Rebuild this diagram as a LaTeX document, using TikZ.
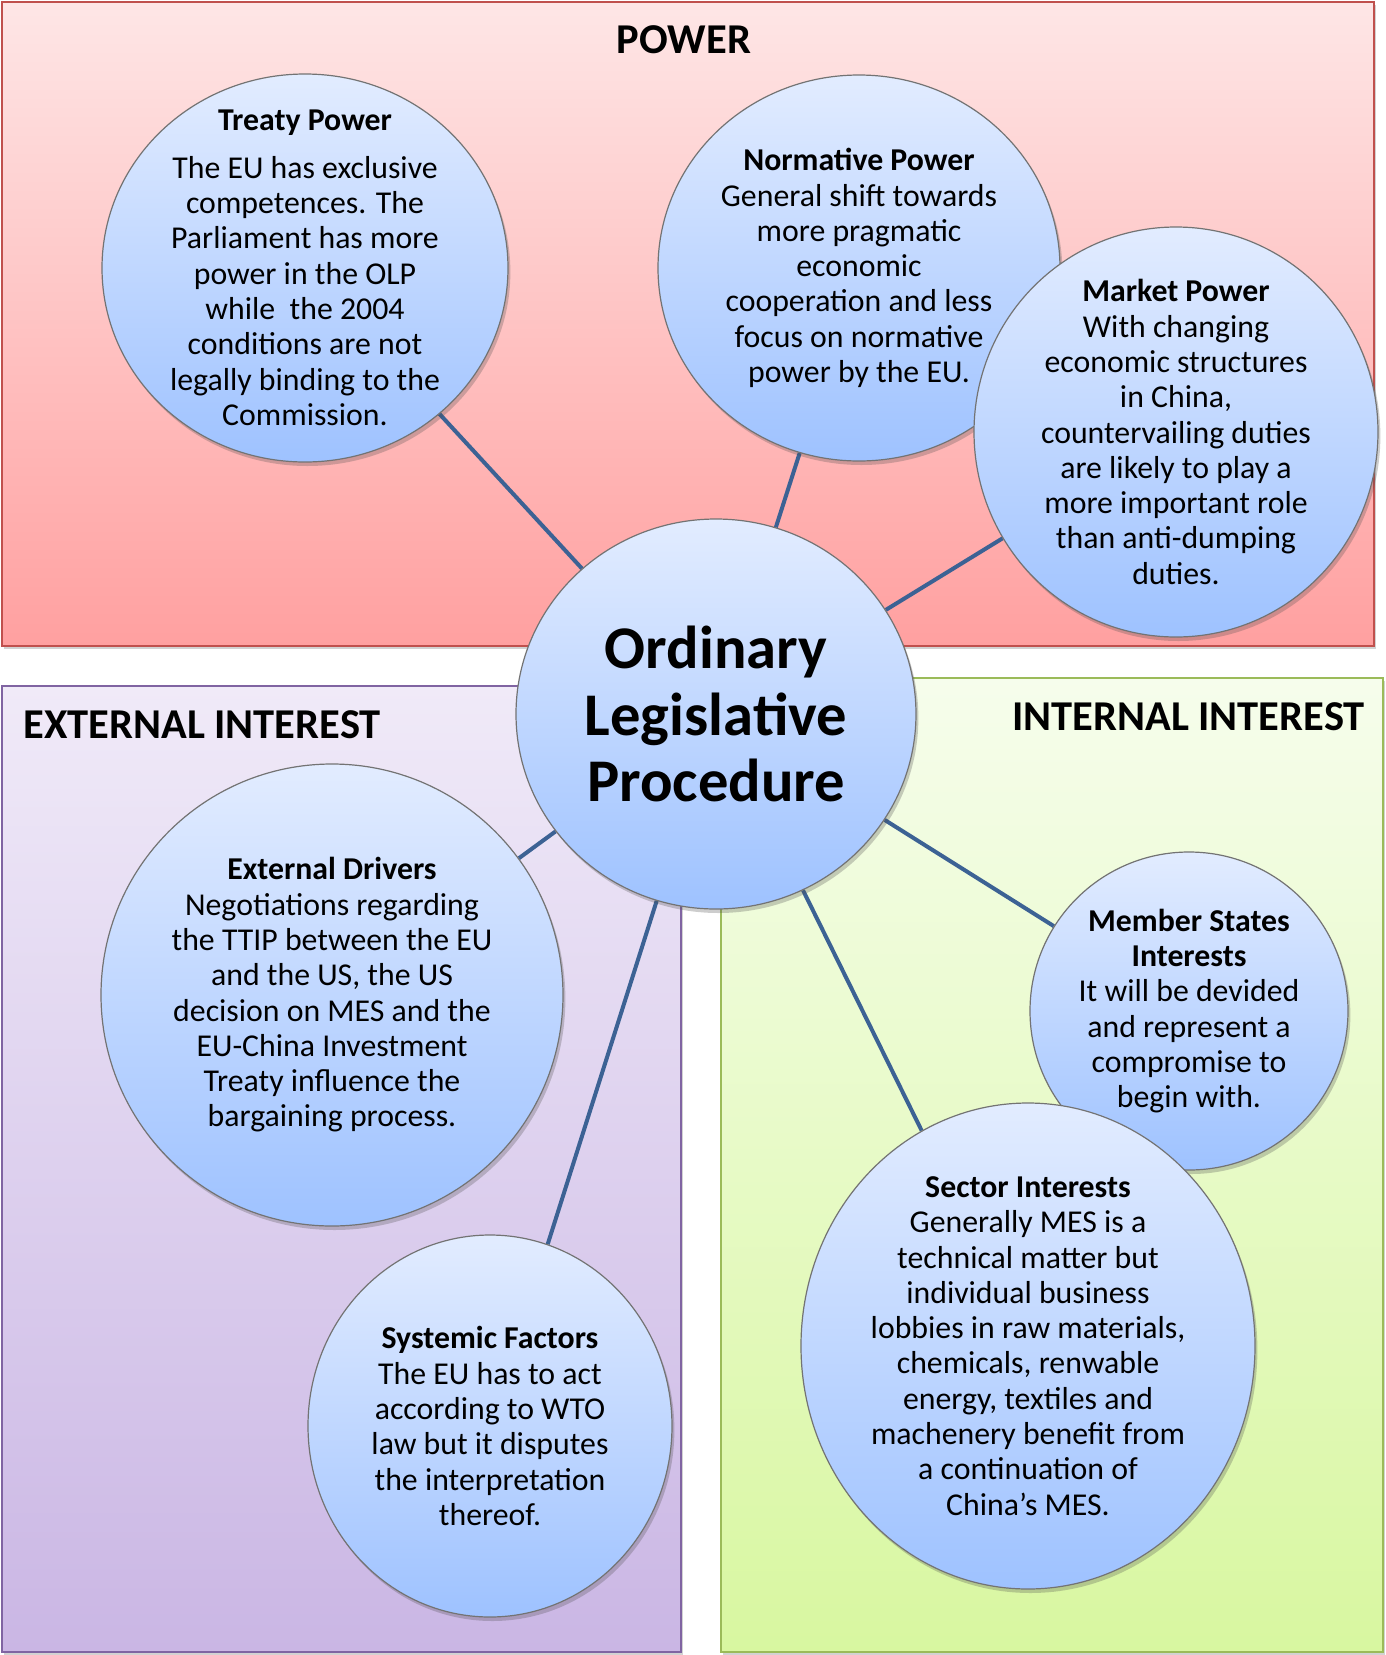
\documentclass[tikz,border=0pt]{standalone}
\usepackage{fontspec}
\setmainfont{Carlito}
\usetikzlibrary{shapes.geometric,shadows}
\definecolor{bubtop}{RGB}{226,236,255}
\definecolor{bubbot}{RGB}{158,194,255}
\definecolor{powtop}{RGB}{254,230,230}
\definecolor{powbot}{RGB}{255,160,160}
\definecolor{powbd}{RGB}{192,80,77}
\definecolor{exttop}{RGB}{240,234,248}
\definecolor{extbot}{RGB}{202,182,228}
\definecolor{extbd}{RGB}{128,100,162}
\definecolor{inttop}{RGB}{246,253,236}
\definecolor{intbot}{RGB}{216,247,160}
\definecolor{intbd}{RGB}{155,187,89}
\definecolor{linkc}{RGB}{60,98,148}
\pgfdeclarelayer{panels}
\pgfdeclarelayer{links}
\pgfsetlayers{panels,links,main}
\begin{document}
\begin{tikzpicture}[x=0.5pt,y=-0.5pt,
  bubble/.style={ellipse, draw=black!55, line width=0.6pt, top color=bubtop, bottom color=bubbot, inner sep=0pt,
    drop shadow={shadow xshift=1.2pt, shadow yshift=-2pt, opacity=0.28, fill=black!70}},
  btext/.style={align=center, font=\fontsize{15.9}{17.65}\selectfont, inner sep=0pt},
  ctext/.style={align=center, font=\fontsize{30.3}{33.25}\selectfont\bfseries, inner sep=0pt},
  ttl/.style={font=\fontsize{21.25}{24}\selectfont\bfseries, inner sep=0pt},
  panel/.style={line width=0.8pt, drop shadow={shadow xshift=1pt, shadow yshift=-1.5pt, opacity=0.25, fill=black!70}},
  link/.style={draw=linkc, line width=2pt}
]
\useasboundingbox (0,0) rectangle (1386,1655);
\begin{pgfonlayer}{panels}
  \draw[panel, draw=powbd, top color=powtop, bottom color=powbot] (2,2) rectangle (1374,646);
  \draw[panel, draw=extbd, top color=exttop, bottom color=extbot] (2,686) rectangle (681,1652);
  \draw[panel, draw=intbd, top color=inttop, bottom color=intbot] (721,678) rectangle (1383,1652);
\end{pgfonlayer}

\node[ttl] (powT) at (684,40) {POWER};
\node[ttl, anchor=west] (extT) at (23,725) {EXTERNAL INTEREST};
\node[ttl, anchor=east] (intT) at (1365,717) {INTERNAL INTEREST};

\node[bubble, minimum width=203pt, minimum height=194pt] (treaty) at (305,268) {};
\node[bubble, minimum width=201pt, minimum height=193pt] (normative) at (859,268) {};
\node[bubble, minimum width=202pt, minimum height=205pt] (market) at (1176,432) {};
\node[bubble, minimum width=200pt, minimum height=195pt] (central) at (716,714) {};
\node[bubble, minimum width=231pt, minimum height=231pt] (extdrv) at (332,995) {};
\node[bubble, minimum width=182pt, minimum height=191pt] (systemic) at (490,1426) {};
\node[bubble, minimum width=159pt, minimum height=159pt] (member) at (1189,1011) {};
\node[bubble, minimum width=227pt, minimum height=243pt] (sector) at (1028,1346) {};

\begin{pgfonlayer}{links}
  \draw[link] (central) -- (treaty);
  \draw[link] (central) -- (normative);
  \draw[link] (central) -- (market);
  \draw[link] (central) -- (extdrv);
  \draw[link] (central) -- (systemic);
  \draw[link] (central) -- (member);
  \draw[link] (central) -- (sector);
\end{pgfonlayer}

\node[btext] (treatyT) at (treaty.center) {\textbf{Treaty Power}\\[6pt]The EU has exclusive\\competences. The\\Parliament has more\\power in the OLP\\while\ \ the 2004\\conditions are not\\legally binding to the\\Commission.};
\node[btext] (normativeT) at (normative.center) {\textbf{Normative Power}\\General shift towards\\more pragmatic\\economic\\cooperation and less\\focus on normative\\power by the EU.};
\node[btext] (marketT) at (market.center) {\textbf{Market Power}\\With changing\\economic structures\\in China,\\countervailing duties\\are likely to play a\\more important role\\than anti-dumping\\duties.};
\node[ctext] (centralT) at (central.center) {Ordinary\\Legislative\\Procedure};
\node[btext] (extdrvT) at (extdrv.center) {\textbf{External Drivers}\\Negotiations regarding\\the TTIP between the EU\\and the US, the US\\decision on MES and the\\EU-China Investment\\Treaty influence the\\bargaining process.};
\node[btext] (systemicT) at (systemic.center) {\textbf{Systemic Factors}\\The EU has to act\\according to WTO\\law but it disputes\\the interpretation\\thereof.};
\node[btext] (memberT) at (member.center) {\textbf{Member States}\\\textbf{Interests}\\It will be devided\\and represent a\\compromise to\\begin with.};
\node[btext] (sectorT) at (sector.center) {\textbf{Sector Interests}\\Generally MES is a\\technical matter but\\individual business\\lobbies in raw materials,\\chemicals, renwable\\energy, textiles and\\machenery benefit from\\a continuation of\\China's MES.};
\end{tikzpicture}
\end{document}
